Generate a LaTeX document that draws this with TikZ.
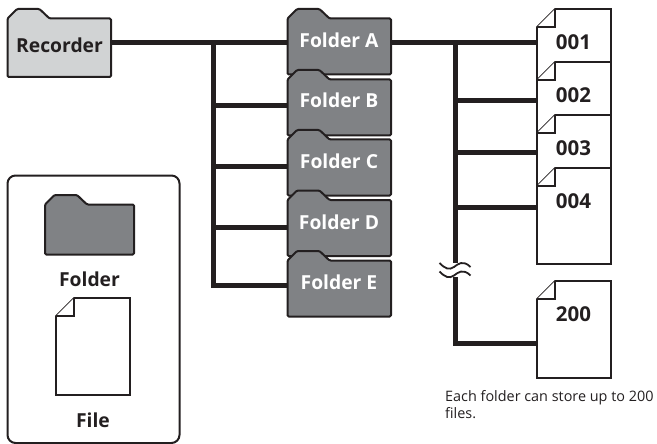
\documentclass[tikz,border=0pt]{standalone}
\usepackage{fontspec}
\setmainfont{Open Sans}
\usetikzlibrary{calc}
\definecolor{ink}{HTML}{231F20}
\definecolor{fgray}{HTML}{808285}
\definecolor{lgray}{HTML}{D1D3D4}
\tikzset{
  x=1pt,y=-1pt,
  shapeline/.style={draw=ink,line width=2pt,rounded corners=1.2pt,line join=round},
  fileline/.style={draw=ink,line width=1.6pt,fill=white,line join=miter},
  conn/.style={draw=ink,line width=5pt,line cap=butt},
  flabel/.style={font=\fontsize{19.3}{21}\selectfont\bfseries,text=white,inner sep=0pt},
  blabel/.style={font=\fontsize{19.3}{21}\selectfont\bfseries,text=ink,inner sep=0pt},
  nlabel/.style={font=\fontsize{20.5}{22}\selectfont\bfseries,text=ink,inner sep=0pt},
}
% #1 name, #2 x-left, #3 tab top y, #4 width, #5 body height, #6 fill
\newcommand{\folderShape}[6]{%
  \path[shapeline,fill=#6] (#2,#3+9.5) -- (#2+9.5,#3) -- (#2+32,#3) -- (#2+42,#3+9.5)
     -- (#2+#4,#3+9.5) -- (#2+#4,#3+9.5+#5) -- (#2,#3+9.5+#5) -- cycle;
  \node[inner sep=0pt,minimum width=#4 pt,minimum height=#5 pt,anchor=north west] (#1) at (#2,#3+9.5) {};
}
% #1 name, #2 x-left, #3 top y, #4 bottom y
\newcommand{\fileShape}[4]{%
  \path[fileline] (#2+18,#3) -- (#2+74,#3) -- (#2+74,#4) -- (#2,#4) -- (#2,#3+18) -- cycle;
  \path[fileline] (#2+18,#3) -- (#2+18,#3+18) -- (#2,#3+18);
  \node[inner sep=0pt,minimum width=74pt,minimum height=#4 pt-#3 pt,anchor=north west] (#1) at (#2,#3) {};
}
\begin{document}
\begin{tikzpicture}
\useasboundingbox (0,0) rectangle (657,444);
% junction coordinates
\coordinate (ja) at (213,43);
\coordinate (jb) at (213,106);
\coordinate (jc) at (213,167);
\coordinate (jd) at (213,227);
\coordinate (je) at (213,285);
\coordinate (ka) at (455,43);
\coordinate (kb) at (455,101);
\coordinate (kc) at (455,153);
\coordinate (kd) at (455,207);
\coordinate (kbreak) at (455,263);
\coordinate (kresume) at (455,277);
\coordinate (ke) at (455,343);

% legend
\draw[draw=ink,line width=2pt,rounded corners=8pt] (7.5,175.5) rectangle (179.5,443);

% shapes
\folderShape{rec}{7.5}{9}{103.5}{58.5}{lgray}
\folderShape{fa}{287.5}{9}{103.5}{56}{fgray}
\folderShape{fb}{287.5}{70}{103.5}{56}{fgray}
\folderShape{fc}{287.5}{130}{103.5}{56}{fgray}
\folderShape{fd}{287.5}{190.5}{103.5}{56}{fgray}
\folderShape{fe}{287.5}{251}{103.5}{56}{fgray}
\fileShape{f1}{537}{9}{105}
\fileShape{f2}{537}{62}{158}
\fileShape{f3}{537}{115}{211}
\fileShape{f4}{537}{168}{264}
\fileShape{f200}{537}{281}{378}

% connectors
\draw[conn] (rec.east |- ja) -- (fa.west |- ja);
\draw[conn] (fa.east |- ka) -- (f1.west |- ka);
\draw[conn,line join=miter] (ja) -- (je) -- (fe.west |- je);
\draw[conn] (jb) -- (fb.west |- jb);
\draw[conn] (jc) -- (fc.west |- jc);
\draw[conn] (jd) -- (fd.west |- jd);
\draw[conn] (ka) -- (kbreak);
\draw[conn,line join=miter] (kresume) -- (ke) -- (f200.west |- ke);
\draw[conn] (kb) -- (f2.west |- kb);
\draw[conn] (kc) -- (f3.west |- kc);
\draw[conn] (kd) -- (f4.west |- kd);

% break mark
\draw[ink,line width=1.8pt] (439.5,263) .. controls (445,268.5) and (449,270.5) .. (454,267) .. controls (458,264) and (463,259.5) .. (470.5,267);
\draw[ink,line width=1.8pt] (439.5,271.5) .. controls (445,277) and (449,279) .. (454,275.5) .. controls (458,272.5) and (463,268) .. (470.5,275.5);

% labels
\node[blabel] (trec) at (59.5,45) {Recorder};
\node[flabel] (ta) at (339,40) {Folder A};
\node[flabel] (tb) at (339,100.5) {Folder B};
\node[flabel] (tc) at (339,161) {Folder C};
\node[flabel] (td) at (339,222) {Folder D};
\node[flabel] (te) at (339,282) {Folder E};
\node[nlabel] (n1) at (573.5,42) {001};
\node[nlabel] (n2) at (573.5,95) {002};
\node[nlabel] (n3) at (573.5,148) {003};
\node[nlabel] (n4) at (573.5,201) {004};
\node[nlabel] (n200) at (573.5,314) {200};

% legend contents
\folderShape{lf}{45}{195}{89}{50}{fgray}
\node[blabel] (tlf) at (89.5,279) {Folder};
\fileShape{lfile}{56}{298}{395}
\node[blabel] (tlfile) at (93,420) {File};

% note
\node[anchor=north west,inner sep=0pt,align=left,text=ink,font=\fontsize{14.4}{17}\selectfont] (note) at (445,390.5) {Each folder can store up to 200\\files.};
\end{tikzpicture}
\end{document}
